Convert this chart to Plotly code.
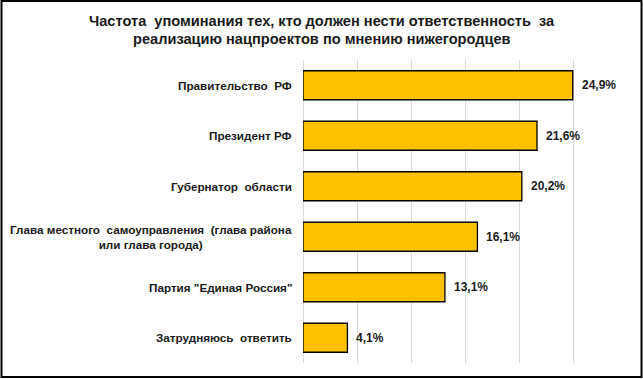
import plotly.graph_objects as go

categories = [
    "Правительство  РФ",
    "Президент РФ",
    "Губернатор  области",
    "Глава местного  самоуправления  (глава района<br>или глава города)",
    "Партия \"Единая Россия\"",
    "Затрудняюсь  ответить",
]
values = [24.9, 21.6, 20.2, 16.1, 13.1, 4.1]
value_labels = ["24,9%", "21,6%", "20,2%", "16,1%", "13,1%", "4,1%"]
title_lines = ["Частота  упоминания тех, кто должен нести ответственность  за",
               "реализацию нацпроектов по мнению нижегородцев"]

W, H = 643, 379
ML, MR, MT, MB = 303, 15, 60, 16
PW, PH = W - ML - MR, H - MT - MB

FONT = "Liberation Sans, Arial, sans-serif"
TXT = "#1a1a1a"

fig = go.Figure()
fig.add_trace(go.Bar(
    y=categories, x=values, orientation="h",
    marker=dict(color="#FFC000", line=dict(color="#000000", width=1.3)),
    hoverinfo="skip",
))

annotations = []
for c, v, t in zip(categories, values, value_labels):
    annotations.append(dict(
        x=v, y=c, xref="x", yref="y", text=t, showarrow=False,
        xanchor="left", yanchor="middle", xshift=7,
        font=dict(family=FONT, size=12, color=TXT, weight="bold"),
    ))
    annotations.append(dict(
        x=0, y=c, xref="paper", yref="y", text=c, showarrow=False,
        xanchor="right", yanchor="middle", align="center", xshift=-9,
        font=dict(family=FONT, size=11.7, color=TXT, weight="bold"),
    ))

# chart title: two centred lines
title_centres = [21, 39]
for line, yc in zip(title_lines, title_centres):
    annotations.append(dict(
        x=0.5, xref="paper", xshift=W / 2 - (ML + PW / 2),
        y=1 + (MT - yc) / PH, yref="paper", yanchor="middle", xanchor="center",
        text=line, showarrow=False, align="center",
        font=dict(family=FONT, size=14.6, color=TXT, weight="bold"),
    ))

fig.update_layout(
    width=W, height=H,
    margin=dict(l=ML, r=MR, t=MT, b=MB, pad=0),
    paper_bgcolor="white", plot_bgcolor="white",
    bargap=0.425,
    showlegend=False,
    xaxis=dict(range=[0, 30], dtick=5, showticklabels=False,
               showgrid=True, gridcolor="#d9d9d9", gridwidth=1,
               zeroline=True, zerolinecolor="#d9d9d9", zerolinewidth=1,
               showline=False, fixedrange=True),
    yaxis=dict(autorange="reversed", showticklabels=False, showgrid=False,
               showline=False, zeroline=False, fixedrange=True),
    annotations=annotations,
    shapes=[dict(
        type="rect", xref="paper", yref="paper",
        x0=-(ML - 1.5) / PW, x1=1 + (MR - 1.5) / PW,
        y0=-(MB - 2) / PH, y1=1 + (MT - 1) / PH,
        line=dict(color="#000000", width=2), fillcolor="rgba(0,0,0,0)",
        layer="above",
    )],
)

fig.write_html("out.html", config={"displayModeBar": False},
               post_script="document.body.style.margin='0px';"
                           "document.body.style.overflow='hidden';")
